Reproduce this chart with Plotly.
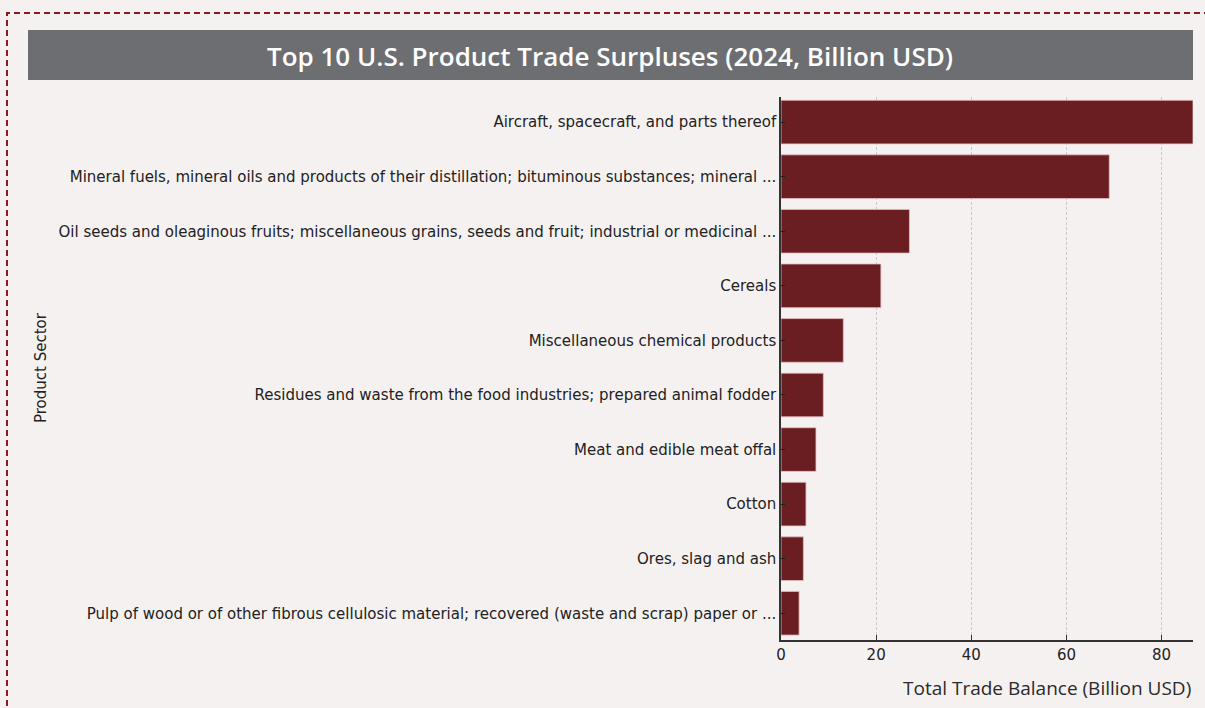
import plotly.graph_objects as go

# Top 10 U.S. product trade surpluses, 2024 (billion USD)
sectors = [
    "Aircraft, spacecraft, and parts thereof",
    "Mineral fuels, mineral oils and products of their distillation; bituminous substances; mineral ...",
    "Oil seeds and oleaginous fruits; miscellaneous grains, seeds and fruit; industrial or medicinal ...",
    "Cereals",
    "Miscellaneous chemical products",
    "Residues and waste from the food industries; prepared animal fodder",
    "Meat and edible meat offal",
    "Cotton",
    "Ores, slag and ash",
    "Pulp of wood or of other fibrous cellulosic material; recovered (waste and scrap) paper or ...",
]
balance = [86.6, 69.0, 27.0, 21.0, 13.1, 8.9, 7.35, 5.25, 4.7, 3.8]
x_ticks = [0, 20, 40, 60, 80]

W, H = 1205, 708
L, R, T, B = 781, 1193, 97, 640  # plot area in pixels


def px_x(p):
    return (p - L) / (R - L)


def px_y(p):
    return (B - p) / (B - T)


BG = "#f5f1f0"
BAR = "#6b1e21"
TICK_FONT = dict(family="DejaVu Sans", size=15, color="#222222")

fig = go.Figure(
    go.Bar(
        x=balance,
        y=sectors,
        orientation="h",
        marker=dict(color=BAR, line=dict(color="rgba(230,190,195,0.8)", width=1)),
        width=0.8,
    )
)

fig.update_layout(
    width=W,
    height=H,
    margin=dict(l=L, r=W - R, t=T, b=H - B),
    paper_bgcolor=BG,
    plot_bgcolor=BG,
    showlegend=False,
    xaxis=dict(
        range=[0, max(balance)],
        tickvals=x_ticks,
        tickfont=TICK_FONT,
        ticks="inside",
        ticklen=5,
        tickcolor="#333333",
        showline=True,
        linecolor="#333333",
        linewidth=1.5,
        showgrid=True,
        gridcolor="#cdc8c8",
        griddash="3px,2px",
        gridwidth=1,
        zeroline=False,
    ),
    yaxis=dict(
        range=[9.49, -0.46],
        tickfont=TICK_FONT,
        ticks="inside",
        ticklen=4,
        tickcolor="#222222",
        showline=True,
        linecolor="#333333",
        linewidth=1.5,
        showgrid=False,
        zeroline=False,
    ),
    shapes=[
        # dashed frame
        dict(
            type="rect", xref="paper", yref="paper",
            x0=px_x(7), x1=px_x(1215), y0=px_y(720), y1=px_y(13),
            line=dict(color="#8b1a1a", width=2, dash="6px,4px"),
            fillcolor="rgba(0,0,0,0)", layer="above",
        ),
        # title band
        dict(
            type="rect", xref="paper", yref="paper",
            x0=px_x(28), x1=px_x(1193), y0=px_y(80), y1=px_y(30),
            line=dict(width=0), fillcolor="#6d6e71", layer="above",
        ),
    ],
    annotations=[
        dict(
            text="Top 10 U.S. Product Trade Surpluses (2024, Billion USD)",
            xref="paper", yref="paper",
            x=px_x(610), y=px_y(56), xanchor="center", yanchor="middle",
            showarrow=False,
            font=dict(family="Open Sans", size=26, weight=600, color="#ffffff"),
        ),
        dict(
            text="Product Sector",
            xref="paper", yref="paper",
            x=px_x(41), y=px_y(368), xanchor="center", yanchor="middle",
            textangle=-90, showarrow=False,
            font=dict(family="DejaVu Sans", size=15, color="#222222"),
        ),
        dict(
            text="Total Trade Balance (Billion USD)",
            xref="paper", yref="paper",
            x=px_x(1193), y=px_y(688), xanchor="right", yanchor="middle",
            showarrow=False,
            font=dict(family="Open Sans", size=19, color="#2a2a2a"),
        ),
    ],
)

fig.write_html("out.html")
